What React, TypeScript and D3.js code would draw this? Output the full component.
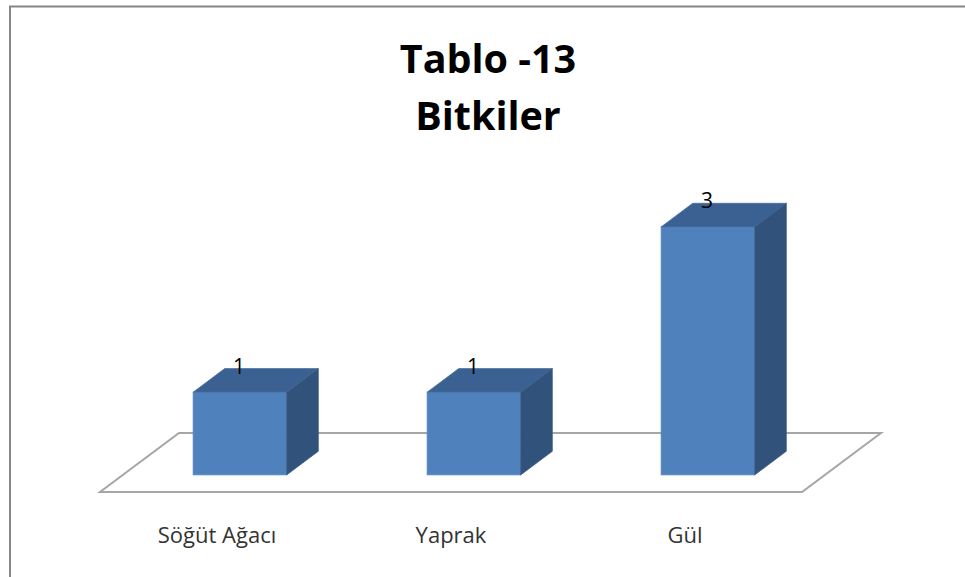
import React, { useEffect, useRef } from "react";
import * as d3 from "d3";

// chart data
const categories = ["Söğüt Ağacı", "Yaprak", "Gül"];
const values = [1, 1, 3];
const titleLines = ["Tablo -13", "Bitkiler"];

const W = 965;
const H = 577;

function App() {
    const svgRef = useRef(null);

    useEffect(() => {
        const svg = d3.select(svgRef.current);
        svg.selectAll("*").remove();

        const font = "'Open Sans', 'Noto Sans', sans-serif";

        // outer chart border (runs off the right and bottom)
        svg.append("rect")
            .attr("x", 10)
            .attr("y", 6.5)
            .attr("width", 1000)
            .attr("height", 700)
            .attr("fill", "white")
            .attr("stroke", "#868686")
            .attr("stroke-width", 2);

        // title
        svg.append("g")
            .selectAll("text")
            .data(titleLines)
            .join("text")
            .attr("x", 488)
            .attr("y", (d, i) => 73 + i * 57)
            .attr("text-anchor", "middle")
            .attr("font-family", font)
            .attr("font-weight", "bold")
            .attr("font-size", 39.5)
            .attr("fill", "black")
            .text((d) => d);

        // floor of the 3d plot, front edge + depth vector
        const floorLeft = 100;
        const floorRight = 802;
        const floorY = 492;
        const depth = [79, -59];
        const fFront = 0.29; // where bars start along the depth
        const fBack = 0.69;

        const x = d3
            .scaleBand()
            .domain(categories)
            .range([floorLeft, floorRight])
            .paddingInner(0.6)
            .paddingOuter(0.3);

        const barBase = floorY + fFront * depth[1];
        const y = d3.scaleLinear().domain([0, 3]).range([barBase, barBase - 248]);

        const floorPts = [
            [floorLeft, floorY],
            [floorRight, floorY],
            [floorRight + depth[0], floorY + depth[1]],
            [floorLeft + depth[0], floorY + depth[1]],
        ];
        svg.append("polygon")
            .attr("points", floorPts.map((p) => p.join(",")).join(" "))
            .attr("fill", "white")
            .attr("stroke", "#a6a6a6")
            .attr("stroke-width", 2);

        const ddx = (fBack - fFront) * depth[0];
        const ddy = (fBack - fFront) * depth[1];
        const bw = x.bandwidth();

        const bars = svg
            .append("g")
            .selectAll("g")
            .data(categories.map((c, i) => ({ cat: c, value: values[i] })))
            .join("g");

        const x0 = (d) => x(d.cat) + fFront * depth[0];
        const pts = (arr) => arr.map((p) => p.join(",")).join(" ");

        // front face
        bars.append("rect")
            .attr("x", (d) => x0(d))
            .attr("y", (d) => y(d.value))
            .attr("width", bw)
            .attr("height", (d) => y(0) - y(d.value))
            .attr("fill", "#4f81bd")
            .attr("stroke", "#5a8ac4")
            .attr("stroke-width", 0.8);

        // top face
        bars.append("polygon")
            .attr("points", (d) => {
                const l = x0(d), r = l + bw, t = y(d.value);
                return pts([[l, t], [r, t], [r + ddx, t + ddy], [l + ddx, t + ddy]]);
            })
            .attr("fill", "#3b6192")
            .attr("stroke", "#4a70a0")
            .attr("stroke-width", 0.8);

        // side face
        bars.append("polygon")
            .attr("points", (d) => {
                const r = x0(d) + bw, t = y(d.value), b = y(0);
                return pts([[r, t], [r + ddx, t + ddy], [r + ddx, b + ddy], [r, b]]);
            })
            .attr("fill", "#31527b")
            .attr("stroke", "#3d5f88")
            .attr("stroke-width", 0.8);

        // value labels
        bars.append("text")
            .attr("x", (d) => x0(d) + bw / 2 - 1)
            .attr("y", (d) => y(d.value) + ddy + 5)
            .attr("text-anchor", "middle")
            .attr("font-family", font)
            .attr("font-size", 21)
            .attr("fill", "black")
            .text((d) => d.value);

        // category labels at the front of the floor
        svg.append("g")
            .selectAll("text")
            .data(categories)
            .join("text")
            .attr("x", (d) => x(d) + bw / 2)
            .attr("y", 543)
            .attr("text-anchor", "middle")
            .attr("font-family", font)
            .attr("font-size", 22)
            .attr("fill", "#333333")
            .text((d) => d);
    }, []);

    return (
        <svg
            ref={svgRef}
            width={W}
            height={H}
            style={{ position: "absolute", left: 0, top: 0, display: "block", background: "white" }}
        ></svg>
    );
}

export default App;
